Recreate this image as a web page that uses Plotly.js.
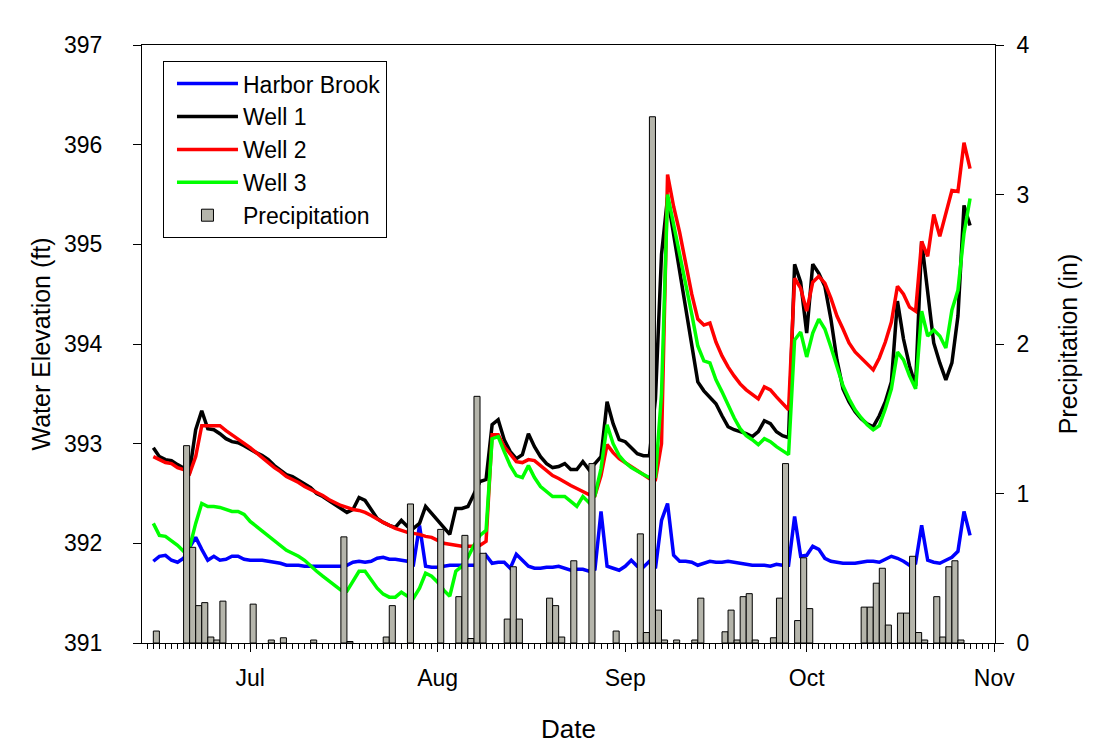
<!DOCTYPE html>
<html>
<head>
<meta charset="utf-8">
<script src="https://cdn.plot.ly/plotly-3.0.1.min.js"></script>
<style>
html,body{margin:0;padding:0;background:#fff;}
#chart{width:1099px;height:744px;}
</style>
</head>
<body>
<div id="chart"></div>
<script>
// Daily water elevations (ft), first day = 2009-06-15
const startDate = '2009-06-15';
const harborBrook = [
391.82,391.87,391.88,391.83,391.81,391.85,391.96,392.06,391.94,391.83,391.87,391.83,391.84,391.87,391.87,391.84,
391.83,391.83,391.83,391.82,391.81,391.80,391.78,391.78,391.78,391.77,
391.77,391.77,391.77,391.77,391.77,391.77,391.78,391.81,391.82,391.81,
391.82,391.85,391.86,391.84,391.84,391.83,391.82,391.79,392.18,391.77,
391.76,391.76,391.77,391.78,391.78,391.78,391.78,391.78,391.78,391.88,
391.80,391.81,391.81,391.75,391.89,391.83,391.77,391.75,391.75,391.76,
391.76,391.77,391.75,391.73,391.74,391.74,391.72,391.74,392.32,391.77,
391.75,391.73,391.77,391.83,391.77,391.76,391.82,391.75,392.23,392.40,
391.88,391.82,391.82,391.81,391.78,391.80,391.82,391.81,391.81,391.82,
391.81,391.80,391.79,391.78,391.78,391.78,391.77,391.79,391.78,391.78,
392.27,391.87,391.88,391.97,391.94,391.85,391.82,391.81,391.80,391.80,
391.80,391.81,391.82,391.82,391.81,391.84,391.87,391.85,391.82,391.78,
391.80,392.18,391.83,391.81,391.80,391.83,391.86,391.92,392.32,392.08];
const well1 = [
392.96,392.87,392.84,392.83,392.79,392.75,392.72,393.14,393.33,393.15,393.14,393.10,393.05,393.02,393.01,392.98,
392.94,392.91,392.88,392.84,392.78,392.73,392.69,392.67,392.63,392.60,
392.56,392.50,392.47,392.43,392.39,392.35,392.31,392.34,392.46,392.43,
392.34,392.25,392.21,392.18,392.16,392.23,392.17,392.15,392.20,392.37,
392.30,392.23,392.15,392.09,392.35,392.35,392.37,392.50,392.62,392.64,
393.19,393.24,393.04,392.92,392.85,392.89,393.10,392.97,392.87,392.80,
392.76,392.77,392.80,392.74,392.74,392.82,392.74,392.80,392.87,393.42,
393.20,393.04,393.02,392.96,392.90,392.88,392.88,393.45,394.90,395.47,
395.10,394.75,394.40,394.00,393.62,393.53,393.47,393.40,393.28,393.17,
393.14,393.12,393.10,393.07,393.12,393.23,393.20,393.12,393.08,393.06,
394.80,394.62,394.11,394.80,394.71,394.58,394.25,393.84,393.55,393.42,
393.32,393.25,393.20,393.17,393.28,393.42,393.62,394.43,394.05,393.78,
393.58,395.03,394.55,394.01,393.81,393.64,393.81,394.28,395.39,395.19];
const well2 = [
392.87,392.84,392.81,392.80,392.76,392.74,392.70,392.87,393.18,393.18,393.18,393.18,393.13,393.09,393.05,393.01,
392.96,392.91,392.86,392.80,392.76,392.72,392.67,392.64,392.61,392.57,
392.54,392.51,392.48,392.44,392.41,392.38,392.36,392.34,392.33,392.31,
392.28,392.24,392.21,392.18,392.15,392.13,392.11,392.10,392.09,392.07,
392.06,392.03,392.00,391.99,391.98,391.97,391.97,391.97,391.98,392.02,
393.09,393.09,392.97,392.89,392.82,392.81,392.84,392.83,392.78,392.73,
392.68,392.65,392.61,392.58,392.55,392.52,392.49,392.48,392.68,392.99,
392.91,392.85,392.81,392.76,392.72,392.68,392.65,392.64,393.00,395.70,
395.38,395.12,394.80,394.50,394.25,394.19,394.21,394.02,393.88,393.77,
393.68,393.60,393.54,393.49,393.45,393.57,393.54,393.47,393.40,393.34,
394.66,394.56,394.33,394.62,394.68,394.61,394.46,394.28,394.15,394.01,
393.92,393.86,393.80,393.74,393.86,394.02,394.22,394.58,394.50,394.37,
394.33,395.03,394.88,395.30,395.08,395.30,395.54,395.53,396.02,395.76];
const well3 = [
392.20,392.08,392.07,392.03,391.98,391.92,391.96,392.20,392.40,392.37,392.37,392.36,392.34,392.32,392.32,392.29,
392.22,392.17,392.13,392.07,392.02,391.97,391.93,391.90,391.87,391.83,
391.77,391.72,391.67,391.62,391.57,391.53,391.52,391.62,391.72,391.72,
391.64,391.55,391.49,391.46,391.46,391.51,391.47,391.45,391.55,391.70,
391.67,391.61,391.53,391.47,391.72,391.77,391.86,391.98,392.08,392.13,
393.05,393.07,392.92,392.78,392.68,392.66,392.78,392.66,392.57,392.52,
392.47,392.47,392.47,392.42,392.37,392.47,392.41,392.48,392.75,393.19,
393.00,392.88,392.81,392.76,392.72,392.69,392.66,392.67,393.50,395.50,
395.20,394.91,394.60,394.30,393.98,393.83,393.81,393.64,393.52,393.38,
393.26,393.15,393.08,393.04,392.99,393.05,393.02,392.97,392.93,392.89,
394.04,394.12,393.87,394.11,394.25,394.15,393.97,393.76,393.58,393.45,
393.34,393.26,393.19,393.14,393.18,393.35,393.55,393.92,393.84,393.68,
393.55,394.33,394.08,394.14,394.08,393.96,394.34,394.54,395.11,395.46];

// Daily precipitation (in)
const precipDates = ['2009-06-15','2009-06-20','2009-06-21','2009-06-22','2009-06-23','2009-06-24','2009-06-25','2009-06-26',
'2009-07-01','2009-07-04','2009-07-06','2009-07-11','2009-07-16','2009-07-17','2009-07-23','2009-07-24','2009-07-27',
'2009-08-01','2009-08-04','2009-08-05','2009-08-06','2009-08-07','2009-08-08','2009-08-12','2009-08-13','2009-08-14',
'2009-08-19','2009-08-20','2009-08-21','2009-08-23','2009-08-26','2009-08-30',
'2009-09-03','2009-09-04','2009-09-05','2009-09-06','2009-09-07','2009-09-09','2009-09-12','2009-09-13',
'2009-09-17','2009-09-18','2009-09-19','2009-09-20','2009-09-21','2009-09-22','2009-09-25','2009-09-26','2009-09-27',
'2009-09-29','2009-09-30','2009-10-01',
'2009-10-10','2009-10-11','2009-10-12','2009-10-13','2009-10-14','2009-10-16','2009-10-17','2009-10-18','2009-10-19',
'2009-10-20','2009-10-22','2009-10-23','2009-10-24','2009-10-25','2009-10-26'];
const precipValues = [0.08,1.32,0.64,0.25,0.27,0.04,0.02,0.28,
0.26,0.02,0.035,0.02,0.71,0.01,0.04,0.25,0.93,
0.76,0.31,0.72,0.03,1.65,0.60,0.16,0.51,0.16,
0.30,0.25,0.04,0.55,1.20,0.08,
0.73,0.07,3.52,0.22,0.02,0.02,0.02,0.30,
0.075,0.22,0.02,0.31,0.33,0.02,0.035,0.30,1.20,
0.15,0.57,0.23,
0.24,0.24,0.40,0.50,0.12,0.20,0.20,0.58,0.07,
0.02,0.31,0.04,0.51,0.55,0.02];

const monthTicks = ['2009-07-01','2009-08-01','2009-09-01','2009-10-01','2009-11-01'];
const monthLabels = ['Jul','Aug','Sep','Oct','Nov'];

function dayList(start, n){
  const out = [];
  const d0 = new Date(start + 'T00:00:00Z');
  for (let i = 0; i < n; i++){
    const d = new Date(d0.getTime() + i*86400000);
    out.push(d.toISOString().slice(0,10));
  }
  return out;
}
const dates = dayList(startDate, well1.length);

const FONT = 'Liberation Sans, Arial, sans-serif';
const lw = 3.5;
const traces = [
  {x: dates, y: harborBrook, name: 'Harbor Brook', type: 'scatter', mode: 'lines', line: {color: '#0000ff', width: lw}},
  {x: dates, y: well1, name: 'Well 1', type: 'scatter', mode: 'lines', line: {color: '#000000', width: lw}},
  {x: dates, y: well2, name: 'Well 2', type: 'scatter', mode: 'lines', line: {color: '#ff0000', width: lw}},
  {x: dates, y: well3, name: 'Well 3', type: 'scatter', mode: 'lines', line: {color: '#00ff00', width: lw}},
  {x: precipDates, y: precipValues, name: 'Precipitation', type: 'bar', yaxis: 'y2',
   width: 86400000, offset: 0,
   marker: {color: '#b5b5ab', line: {color: '#000000', width: 1}}}
];

const layout = {
  width: 1099, height: 744,
  margin: {l: 142, r: 104, t: 45, b: 101},
  paper_bgcolor: '#ffffff', plot_bgcolor: '#ffffff',
  font: {family: FONT, color: '#000', size: 22},
  showlegend: true,
  bargap: 0,
  xaxis: {
    type: 'date',
    range: ['2009-06-13 03:00', '2009-11-01 03:00'],
    tickvals: monthTicks, ticktext: monthLabels,
    ticks: 'outside', ticklen: 8, tickwidth: 1, tickcolor: '#000',
    minor: {dtick: 86400000, tick0: '2009-06-13', ticks: 'outside', ticklen: 5, tickcolor: '#000', tickwidth: 1},
    showline: true, linecolor: '#000', linewidth: 1, mirror: true,
    showgrid: false, zeroline: false,
    tickfont: {size: 23, family: FONT},
    ticklabelstandoff: 6,
    title: {text: 'Date', font: {size: 26, family: FONT}, standoff: 30}
  },
  yaxis: {
    range: [391, 397], dtick: 1, tick0: 391,
    ticks: 'outside', ticklen: 8, tickcolor: '#000',
    showline: true, linecolor: '#000', linewidth: 1,
    showgrid: false, zeroline: false,
    tickfont: {size: 23, family: FONT},
    ticklabelstandoff: 26,
    title: {text: 'Water Elevation (ft)', font: {size: 25, family: FONT}, standoff: 6}
  },
  yaxis2: {
    overlaying: 'y', side: 'right',
    range: [0, 4], dtick: 1, tick0: 0,
    ticks: 'outside', ticklen: 8, tickcolor: '#000',
    showline: true, linecolor: '#000', linewidth: 1,
    showgrid: false, zeroline: false,
    tickfont: {size: 23, family: FONT},
    ticklabelstandoff: 8,
    title: {text: 'Precipitation (in)', font: {size: 25, family: FONT}, standoff: 30}
  },
  legend: {
    x: 0.0246, y: 0.973, xanchor: 'left', yanchor: 'top',
    bgcolor: '#ffffff', bordercolor: '#000', borderwidth: 1,
    font: {size: 23, family: FONT},
    itemwidth: 61, indentation: 8, tracegroupgap: 0,
    traceorder: 'normal'
  }
};

Plotly.newPlot('chart', traces, layout, {staticPlot: true, displayModeBar: false});
</script>
</body>
</html>
